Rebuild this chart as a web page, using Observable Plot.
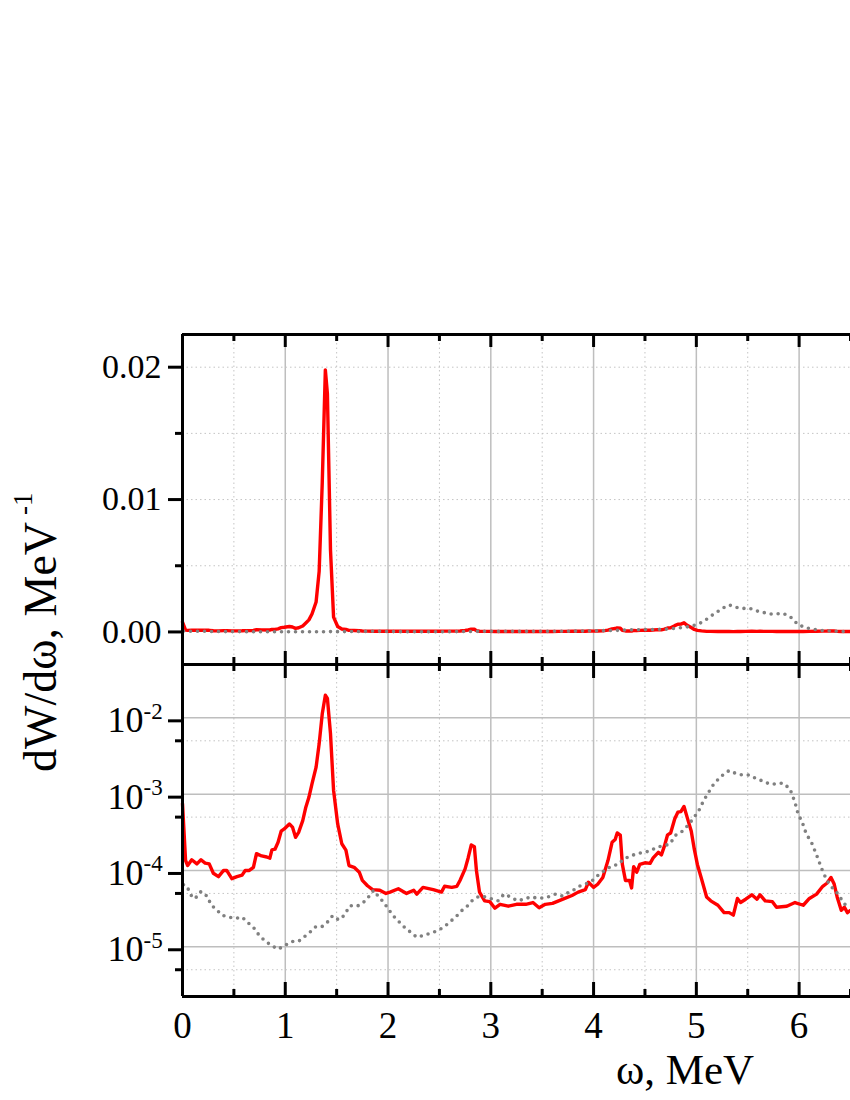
<!DOCTYPE html>
<html><head><meta charset="utf-8">
<script src="https://cdn.jsdelivr.net/npm/d3@7"></script>
<script src="https://cdn.jsdelivr.net/npm/@observablehq/plot@0.6"></script>
<style>
body{margin:0;background:#fff;}
#chart{position:relative;width:850px;height:1100px;font-family:"Liberation Serif","Times New Roman",serif;}
#chart > svg{display:block;}
#overlay{position:absolute;left:0;top:0;pointer-events:none;}
</style></head><body><div id="chart"></div>
<script>
// red solid curve
const omegaRed = [0.00,0.03,0.05,0.09,0.14,0.18,0.22,0.26,0.30,0.35,0.40,0.43,0.48,0.53,0.58,0.61,0.65,0.69,0.72,0.77,0.82,0.85,0.87,0.90,0.93,0.96,0.99,1.04,1.07,1.10,1.13,1.17,1.20,1.23,1.26,1.30,1.33,1.36,1.39,1.41,1.44,1.47,1.51,1.55,1.59,1.62,1.67,1.72,1.75,1.80,1.85,1.92,1.98,2.02,2.10,2.18,2.25,2.28,2.34,2.44,2.52,2.55,2.62,2.67,2.70,2.75,2.78,2.81,2.84,2.86,2.89,2.94,2.99,3.04,3.09,3.17,3.25,3.34,3.41,3.47,3.53,3.60,3.66,3.72,3.79,3.85,3.92,3.95,4.00,4.04,4.09,4.14,4.18,4.21,4.23,4.26,4.28,4.31,4.35,4.37,4.39,4.42,4.45,4.50,4.55,4.58,4.63,4.66,4.69,4.72,4.75,4.79,4.82,4.85,4.88,4.91,4.95,4.98,5.01,5.05,5.10,5.14,5.21,5.27,5.32,5.36,5.40,5.43,5.48,5.54,5.59,5.62,5.67,5.74,5.78,5.88,5.96,6.04,6.10,6.17,6.23,6.27,6.31,6.34,6.37,6.41,6.44,6.47,6.50];
const dwRed = [7.5e-4,1.35e-4,1.16e-4,1.38e-4,1.22e-4,1.38e-4,1.25e-4,1.22e-4,9.2e-5,8.3e-5,1.0e-4,1.0e-4,7.8e-5,8.3e-5,8.7e-5,1.0e-4,1.0e-4,1.1e-4,1.66e-4,1.55e-4,1.5e-4,1.45e-4,1.86e-4,1.9e-4,2.34e-4,3.27e-4,3.5e-4,4.07e-4,3.7e-4,2.72e-4,3.16e-4,4.5e-4,6.75e-4,9.1e-4,1.36e-3,2.26e-3,4.6e-3,1.13e-2,1.98e-2,1.8e-2,6.2e-3,1.12e-3,4.07e-4,2.24e-4,1.85e-4,1.16e-4,1.1e-4,9.5e-5,7.4e-5,6.3e-5,5.6e-5,5.5e-5,5.0e-5,5.2e-5,5.75e-5,5.0e-5,5.5e-5,4.9e-5,6.0e-5,5.6e-5,5.2e-5,6.2e-5,6.0e-5,6.2e-5,7.4e-5,1.05e-4,1.47e-4,2.16e-4,2.05e-4,1.0e-4,5.2e-5,4.0e-5,3.9e-5,3.2e-5,3.6e-5,3.4e-5,3.6e-5,3.6e-5,3.8e-5,3.25e-5,3.6e-5,3.7e-5,4.0e-5,4.3e-5,4.7e-5,5.2e-5,5.6e-5,7.0e-5,6.0e-5,6.6e-5,8.1e-5,1.35e-4,2.34e-4,2.55e-4,3.1e-4,2.9e-4,1.2e-4,7.4e-5,7.4e-5,5.9e-5,1.12e-4,9.5e-5,1.2e-4,1.26e-4,1.24e-4,1.46e-4,1.73e-4,1.6e-4,2.1e-4,2.93e-4,3.1e-4,4.75e-4,5.8e-4,5.9e-4,6.9e-4,5.0e-4,3.3e-4,1.9e-4,1.2e-4,7.8e-5,4.5e-5,4.0e-5,3.5e-5,2.8e-5,2.8e-5,2.6e-5,4.3e-5,3.8e-5,4.2e-5,4.8e-5,4.2e-5,4.8e-5,4.0e-5,3.9e-5,3.3e-5,3.4e-5,3.8e-5,3.5e-5,4.3e-5,4.9e-5,6.2e-5,6.8e-5,8.1e-5,6.7e-5,4.5e-5,3.0e-5,3.3e-5,2.8e-5,3.0e-5];
// gray dotted curve
const omegaGray = [0.01,0.04,0.07,0.10,0.14,0.18,0.24,0.28,0.33,0.38,0.45,0.51,0.58,0.63,0.69,0.74,0.80,0.87,0.93,0.99,1.06,1.13,1.17,1.24,1.30,1.36,1.41,1.46,1.52,1.57,1.63,1.70,1.76,1.81,1.86,1.91,1.96,1.99,2.05,2.15,2.22,2.28,2.34,2.41,2.47,2.54,2.60,2.67,2.72,2.78,2.83,2.89,2.95,3.02,3.07,3.13,3.19,3.26,3.32,3.39,3.45,3.52,3.58,3.63,3.70,3.76,3.81,3.86,3.92,3.99,4.05,4.12,4.18,4.24,4.29,4.36,4.42,4.48,4.55,4.61,4.67,4.74,4.80,4.87,4.93,4.98,5.03,5.07,5.12,5.17,5.22,5.27,5.32,5.39,5.45,5.52,5.58,5.65,5.71,5.78,5.84,5.91,5.96,5.99,6.03,6.07,6.12,6.17,6.22,6.27,6.32,6.38,6.43,6.48];
const dwGray = [6.5e-5,6.3e-5,5.2e-5,4.3e-5,4.5e-5,5.3e-5,4.6e-5,3.5e-5,3.1e-5,2.6e-5,2.45e-5,2.35e-5,2.45e-5,2.1e-5,1.8e-5,1.45e-5,1.2e-5,1.03e-5,9.3e-6,1.03e-5,1.17e-5,1.18e-5,1.3e-5,1.55e-5,1.85e-5,1.85e-5,2.1e-5,2.55e-5,2.25e-5,2.55e-5,3.45e-5,3.4e-5,3.8e-5,4.5e-5,5.5e-5,4.5e-5,3.8e-5,3.3e-5,2.55e-5,1.85e-5,1.55e-5,1.33e-5,1.4e-5,1.5e-5,1.6e-5,1.8e-5,2.1e-5,2.55e-5,3.0e-5,3.5e-5,4.2e-5,4.6e-5,4.5e-5,4.2e-5,4.0e-5,4.9e-5,4.5e-5,4.0e-5,4.2e-5,4.5e-5,4.35e-5,4.35e-5,4.6e-5,4.9e-5,4.6e-5,5.2e-5,5.6e-5,6.2e-5,6.6e-5,7.4e-5,8.8e-5,1.03e-4,1.15e-4,1.2e-4,1.4e-4,1.55e-4,1.65e-4,1.72e-4,1.8e-4,2.0e-4,2.1e-4,2.2e-4,2.9e-4,3.3e-4,4.07e-4,5.0e-4,6.3e-4,8.2e-4,1.06e-3,1.36e-3,1.6e-3,1.85e-3,2.04e-3,1.85e-3,1.78e-3,1.78e-3,1.6e-3,1.48e-3,1.36e-3,1.36e-3,1.4e-3,1.18e-3,7.8e-4,5.5e-4,4.3e-4,3.0e-4,2.34e-4,1.6e-4,1.05e-4,7.4e-5,6.0e-5,4.9e-5,3.8e-5,3.2e-5];

// axes / ticks
const xDomain = [0, 6.5];
const xMajor = [0, 1, 2, 3, 4, 5, 6];
const xMinor = [0.5, 1.5, 2.5, 3.5, 4.5, 5.5, 6.5];
const xTickLabels = ["0", "1", "2", "3", "4", "5", "6"];
const linDomain = [-0.00246, 0.02247];
const linMajor = [0, 0.01, 0.02];
const linTickLabels = ["0.00", "0.01", "0.02"];
const linMinor = [0.005, 0.015];
const linGrid = [0.005, 0.01, 0.015, 0.02];
const logDomain = [2.23e-6, 0.05];
const logMajor = [1e-5, 1e-4, 1e-3, 1e-2];
const logBase = "10";
const logExponents = ["-5", "-4", "-3", "-2"];
const logMinor = [5e-6, 5e-5, 5e-4, 5e-3];
const xLabel = "ω, MeV";
const yLabel = "dW/dω, MeV";
const yLabelSup = "-1";

const red = omegaRed.map((w, i) => ({w, v: dwRed[i]}));
const gray = omegaGray.map((w, i) => ({w, v: dwGray[i]}));

const FONT = "'Liberation Serif','Times New Roman',serif";
const W = 850, ML = 182;
const solidGrid = {stroke: "#bebebe", strokeOpacity: 1, strokeWidth: 1.5};
const dotGrid = {stroke: "#c4c4c4", strokeOpacity: 1, strokeWidth: 1, strokeDasharray: "1.5,3"};
const redStyle = {x: "w", y: "v", stroke: "#ff0000", strokeWidth: 3.4, strokeLinejoin: "round"};
const grayStyle = {x: "w", y: "v", stroke: "#808080", strokeWidth: 3.6, strokeDasharray: "0,7", strokeLinecap: "round"};
const tk = {stroke: "black", strokeWidth: 3};

// top (linear) panel
const topH = 664, topMT = 334, topInner = topH - topMT;
const topPlot = Plot.plot({
  width: W, height: topH, marginLeft: ML, marginRight: 0, marginTop: topMT, marginBottom: 0,
  style: {fontFamily: FONT, fontSize: "34px", color: "black", background: "transparent"},
  x: {domain: xDomain, axis: null},
  y: {domain: linDomain, axis: null},
  marks: [
    Plot.gridX(xMajor.slice(1), solidGrid),
    Plot.gridX(xMinor, dotGrid),
    Plot.gridY(linGrid, dotGrid),
    Plot.line(red, redStyle),
    Plot.line(gray, grayStyle),
    Plot.tickX(xMajor, {x: d => d, ...tk, insetBottom: topInner - 13}),
    Plot.tickX(xMinor, {x: d => d, ...tk, insetBottom: topInner - 7}),
    Plot.tickX(xMajor, {x: d => d, ...tk, insetTop: topInner - 13}),
    Plot.tickX(xMinor, {x: d => d, ...tk, insetTop: topInner - 7}),
    Plot.ruleX([xDomain[0]], {stroke: "black", strokeWidth: 3}),
    Plot.ruleY([linDomain[1]], {stroke: "black", strokeWidth: 3}),
    Plot.ruleY([linDomain[0]], {stroke: "black", strokeWidth: 3}),
    Plot.axisY(linMajor, {tickSize: 14, tickPadding: 7, strokeWidth: 3, fontSize: 34, tickFormat: (d, i) => linTickLabels[i], label: null}),
    Plot.axisY(linMinor, {tickSize: 7, strokeWidth: 3, fill: "none", label: null})
  ]
});

// bottom (log) panel
const botH = 436, botMB = 104, botInner = botH - botMB;
const botPlot = Plot.plot({
  width: W, height: botH, marginLeft: ML, marginRight: 0, marginTop: 0, marginBottom: botMB,
  style: {fontFamily: FONT, fontSize: "34px", color: "black", background: "transparent"},
  x: {domain: xDomain, axis: null},
  y: {type: "log", domain: logDomain, axis: null},
  marks: [
    Plot.gridX(xMajor.slice(1), solidGrid),
    Plot.gridX(xMinor, dotGrid),
    Plot.gridY(logMajor, solidGrid),
    Plot.gridY(logMinor, dotGrid),
    Plot.line(red, redStyle),
    Plot.line(gray, grayStyle),
    Plot.tickX(xMajor, {x: d => d, ...tk, insetBottom: botInner - 14}),
    Plot.tickX(xMinor, {x: d => d, ...tk, insetBottom: botInner - 7}),
    Plot.tickX(xMajor, {x: d => d, ...tk, insetTop: botInner - 14}),
    Plot.tickX(xMinor, {x: d => d, ...tk, insetTop: botInner - 7}),
    Plot.ruleX([xDomain[0]], {stroke: "black", strokeWidth: 3}),
    Plot.ruleY([logDomain[1]], {stroke: "black", strokeWidth: 3}),
    Plot.ruleY([logDomain[0]], {stroke: "black", strokeWidth: 3}),
    Plot.axisY(logMajor, {tickSize: 14, tickPadding: 25, strokeWidth: 3, fontSize: 36, dy: 3, tickFormat: () => logBase, label: null}),
    Plot.text(logMajor, {y: d => d, text: (d, i) => logExponents[i], frameAnchor: "left", dx: -39, dy: 1, textAnchor: "start", lineAnchor: "bottom", fontSize: 23, fill: "black"}),
    Plot.axisY(logMinor, {tickSize: 7, strokeWidth: 3, fill: "none", label: null}),
    Plot.axisX(xMajor, {anchor: "bottom", tickSize: 0, tickPadding: 15, fontSize: 37, tickFormat: (d, i) => xTickLabels[i], label: null})
  ]
});

const chart = document.getElementById("chart");
chart.appendChild(topPlot);
chart.appendChild(botPlot);

// axis titles
const ov = d3.select(chart).append("svg").attr("id", "overlay").attr("width", 850).attr("height", 1100)
  .style("font-family", FONT);
ov.append("text").attr("x", 616).attr("y", 1084).attr("font-size", 43).attr("fill", "black").text(xLabel);
const yl = ov.append("text").attr("transform", "translate(56,772) rotate(-90)")
  .attr("font-size", 46).attr("fill", "black").attr("text-anchor", "start");
yl.append("tspan").text(yLabel);
yl.append("tspan").attr("dx", 7).attr("dy", -24).attr("font-size", 27).text(yLabelSup);
</script></body></html>
